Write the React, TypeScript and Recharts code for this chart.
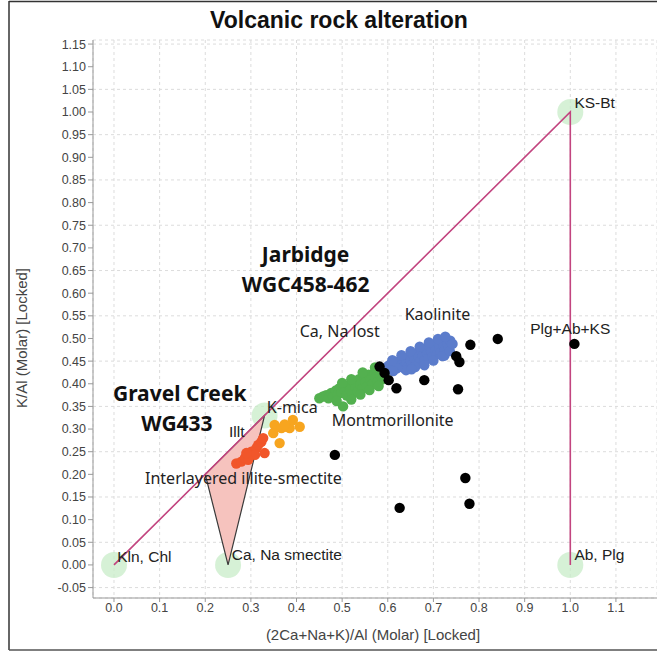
import React from 'react';
import { ScatterChart, Scatter, XAxis, YAxis, CartesianGrid } from 'recharts';

// ---- axis ticks ----
const xTicks = [0, 0.1, 0.2, 0.3, 0.4, 0.5, 0.6, 0.7, 0.8, 0.9, 1.0, 1.1];
const yTicks = [-0.05, 0, 0.05, 0.1, 0.15, 0.2, 0.25, 0.3, 0.35, 0.4, 0.45, 0.5, 0.55, 0.6, 0.65, 0.7, 0.75, 0.8, 0.85, 0.9, 0.95, 1.0, 1.05, 1.1, 1.15];

// ---- reference geometry (data units) ----
const endMembers = [
  { x: 0, y: 0 },
  { x: 0.25, y: 0 },
  { x: 1, y: 0 },
  { x: 1, y: 1 },
  { x: 0.33, y: 0.33 },
];
const alterationPath = [
  { x: 0, y: 0 },
  { x: 1, y: 1 },
  { x: 1, y: 0 },
];
const illiteSmectiteField = [
  { x: 0.2, y: 0.2 },
  { x: 0.33, y: 0.33 },
  { x: 0.25, y: 0 },
];

// ---- samples ----
const kaolinite = [
  { x: 0.598, y: 0.437 }, { x: 0.603, y: 0.441 }, { x: 0.608, y: 0.436 }, { x: 0.612, y: 0.445 },
  { x: 0.616, y: 0.438 }, { x: 0.620, y: 0.448 }, { x: 0.624, y: 0.440 }, { x: 0.628, y: 0.452 },
  { x: 0.632, y: 0.444 }, { x: 0.634, y: 0.436 }, { x: 0.638, y: 0.456 }, { x: 0.641, y: 0.447 },
  { x: 0.644, y: 0.438 }, { x: 0.647, y: 0.460 }, { x: 0.650, y: 0.451 }, { x: 0.653, y: 0.442 },
  { x: 0.656, y: 0.464 }, { x: 0.659, y: 0.455 }, { x: 0.662, y: 0.445 }, { x: 0.665, y: 0.468 },
  { x: 0.668, y: 0.459 }, { x: 0.671, y: 0.449 }, { x: 0.674, y: 0.472 }, { x: 0.677, y: 0.463 },
  { x: 0.680, y: 0.452 }, { x: 0.683, y: 0.477 }, { x: 0.686, y: 0.467 }, { x: 0.689, y: 0.456 },
  { x: 0.692, y: 0.481 }, { x: 0.695, y: 0.471 }, { x: 0.698, y: 0.460 }, { x: 0.701, y: 0.485 },
  { x: 0.704, y: 0.475 }, { x: 0.707, y: 0.465 }, { x: 0.710, y: 0.490 }, { x: 0.713, y: 0.480 },
  { x: 0.716, y: 0.470 }, { x: 0.719, y: 0.494 }, { x: 0.722, y: 0.484 }, { x: 0.725, y: 0.475 },
  { x: 0.728, y: 0.497 }, { x: 0.731, y: 0.488 }, { x: 0.734, y: 0.480 }, { x: 0.737, y: 0.495 },
  { x: 0.724, y: 0.462 }, { x: 0.640, y: 0.430 }, { x: 0.620, y: 0.434 }, { x: 0.660, y: 0.437 },
  { x: 0.610, y: 0.452 }, { x: 0.630, y: 0.463 }, { x: 0.650, y: 0.472 }, { x: 0.670, y: 0.482 },
  { x: 0.690, y: 0.491 }, { x: 0.710, y: 0.499 }, { x: 0.726, y: 0.504 }, { x: 0.612, y: 0.428 },
  { x: 0.652, y: 0.432 }, { x: 0.680, y: 0.441 }, { x: 0.700, y: 0.451 }, { x: 0.720, y: 0.461 },
  { x: 0.736, y: 0.472 }, { x: 0.742, y: 0.488 },
];
const montmorillonite = [
  { x: 0.450, y: 0.368 }, { x: 0.458, y: 0.372 }, { x: 0.465, y: 0.375 }, { x: 0.470, y: 0.368 },
  { x: 0.476, y: 0.380 }, { x: 0.480, y: 0.372 }, { x: 0.486, y: 0.385 }, { x: 0.490, y: 0.376 },
  { x: 0.494, y: 0.390 }, { x: 0.498, y: 0.380 }, { x: 0.502, y: 0.350 }, { x: 0.503, y: 0.393 },
  { x: 0.507, y: 0.384 }, { x: 0.510, y: 0.374 }, { x: 0.514, y: 0.397 }, { x: 0.518, y: 0.388 },
  { x: 0.522, y: 0.378 }, { x: 0.526, y: 0.403 }, { x: 0.530, y: 0.393 }, { x: 0.534, y: 0.383 },
  { x: 0.537, y: 0.410 }, { x: 0.540, y: 0.399 }, { x: 0.544, y: 0.389 }, { x: 0.548, y: 0.415 },
  { x: 0.551, y: 0.404 }, { x: 0.555, y: 0.394 }, { x: 0.558, y: 0.420 }, { x: 0.562, y: 0.409 },
  { x: 0.566, y: 0.399 }, { x: 0.570, y: 0.424 }, { x: 0.573, y: 0.414 }, { x: 0.577, y: 0.404 },
  { x: 0.580, y: 0.429 }, { x: 0.584, y: 0.419 }, { x: 0.588, y: 0.410 }, { x: 0.590, y: 0.432 },
  { x: 0.593, y: 0.422 }, { x: 0.520, y: 0.365 }, { x: 0.488, y: 0.362 },
  { x: 0.520, y: 0.410 }, { x: 0.545, y: 0.425 }, { x: 0.572, y: 0.436 }, { x: 0.540, y: 0.376 },
  { x: 0.560, y: 0.386 }, { x: 0.580, y: 0.395 }, { x: 0.500, y: 0.402 },
];
const kMicaSamples = [
  { x: 0.352, y: 0.309 }, { x: 0.349, y: 0.291 }, { x: 0.363, y: 0.269 }, { x: 0.367, y: 0.302 },
  { x: 0.378, y: 0.305 }, { x: 0.385, y: 0.302 }, { x: 0.392, y: 0.320 }, { x: 0.407, y: 0.305 },
  { x: 0.374, y: 0.310 },
];
const illiteSamples = [
  { x: 0.268, y: 0.224 }, { x: 0.279, y: 0.228 }, { x: 0.287, y: 0.236 }, { x: 0.298, y: 0.243 },
  { x: 0.301, y: 0.250 }, { x: 0.312, y: 0.258 }, { x: 0.316, y: 0.265 }, { x: 0.323, y: 0.272 },
  { x: 0.327, y: 0.280 }, { x: 0.330, y: 0.247 }, { x: 0.309, y: 0.243 }, { x: 0.294, y: 0.232 },
  { x: 0.290, y: 0.247 },
];
const otherSamples = [
  { x: 0.582, y: 0.438 }, { x: 0.593, y: 0.424 }, { x: 0.602, y: 0.408 }, { x: 0.619, y: 0.390 },
  { x: 0.680, y: 0.408 }, { x: 0.754, y: 0.388 }, { x: 0.750, y: 0.461 }, { x: 0.757, y: 0.448 },
  { x: 0.781, y: 0.486 }, { x: 0.841, y: 0.499 }, { x: 1.009, y: 0.488 }, { x: 0.484, y: 0.243 },
  { x: 0.770, y: 0.192 }, { x: 0.779, y: 0.135 }, { x: 0.626, y: 0.126 },
];

// ---- annotations (anchored in data units) ----
const endMemberLabels = [
  { x: 1.009, y: 1.02, text: 'KS-Bt' },
  { x: 0.912, y: 0.521, text: 'Plg+Ab+KS' },
  { x: 1.009, y: 0.022, text: 'Ab, Plg' },
  { x: 0.007, y: 0.018, text: 'Kln, Chl' },
  { x: 0.258, y: 0.022, text: 'Ca, Na smectite' },
  { x: 0.252, y: 0.294, text: 'Illt' },
];
const mineralLabels = [
  { x: 0.637, y: 0.554, text: 'Kaolinite' },
  { x: 0.407, y: 0.517, text: 'Ca, Na lost' },
  { x: 0.477, y: 0.320, text: 'Montmorillonite' },
  { x: 0.335, y: 0.349, text: 'K-mica' },
  { x: 0.068, y: 0.192, text: 'Interlayered illite-smectite' },
];
const siteLabels = [
  { x: 0.42, y: 0.686, text: 'Jarbidge' },
  { x: 0.42, y: 0.621, text: 'WGC458-462' },
  { x: 0.144, y: 0.379, text: 'Gravel Creek' },
  { x: 0.138, y: 0.314, text: 'WG433' },
];

const dot = (color: string) => (p: any) => <circle cx={p.cx} cy={p.cy} r={5.2} fill={color} />;
const none = () => <g />;

const labelShape = (family: string, size: number, weight: string, anchor: string, color: string) => (p: any) => (
  <text x={p.cx} y={p.cy} fontFamily={family} fontSize={size} fontWeight={weight} textAnchor={anchor} dominantBaseline="central" fill={color}>
    {p.payload.text}
  </text>
);

const polyLine = (stroke: string, fill: string, closed: boolean, width: number) => (lp: any) => {
  const pts = lp.points || [];
  const d = pts.map((q: any, i: number) => `${i === 0 ? 'M' : 'L'}${q.x},${q.y}`).join(' ') + (closed ? ' Z' : '');
  return <path d={d} stroke={stroke} strokeWidth={width} fill={fill} />;
};

const tickFmtX = (v: number) => v.toFixed(1);
const tickFmtY = (v: number) => v.toFixed(2);

export default function App() {
  return (
    <div style={{ position: 'absolute', left: 0, top: 0, width: 657, height: 653, overflow: 'hidden', background: '#fff' }}>
      <ScatterChart width={657} height={653} margin={{ top: 40, right: 0, bottom: 0, left: 0 }}>
        <CartesianGrid stroke="#dcdcdc" strokeDasharray="3 3" />
        <XAxis
          type="number"
          dataKey="x"
          domain={[-0.046, 1.19]}
          ticks={xTicks}
          allowDataOverflow
          tickFormatter={tickFmtX}
          height={55}
          tickSize={4}
          tickMargin={1}
          stroke="#999"
          tick={{ fill: '#444', fontSize: 12.5, fontFamily: 'Liberation Sans, Arial, sans-serif' }}
        />
        <YAxis
          type="number"
          dataKey="y"
          domain={[-0.073, 1.159]}
          ticks={yTicks}
          allowDataOverflow
          tickFormatter={tickFmtY}
          width={93}
          tickSize={5}
          tickMargin={2}
          stroke="#999"
          tick={{ fill: '#444', fontSize: 12.5, fontFamily: 'Liberation Sans, Arial, sans-serif' }}
        />
        <Scatter data={endMembers} isAnimationActive={false} shape={(p: any) => <circle cx={p.cx} cy={p.cy} r={13} fill="#c8ecc8" fillOpacity={0.75} />} />
        <Scatter data={illiteSmectiteField} isAnimationActive={false} shape={none} line={polyLine('#3a3a3a', '#f6c3be', true, 1.2)} lineType="joint" />
        <Scatter data={alterationPath} isAnimationActive={false} shape={none} line={polyLine('#c2447f', 'none', false, 1.6)} lineType="joint" />
        <Scatter data={montmorillonite} isAnimationActive={false} shape={dot('#53b04f')} />
        <Scatter data={kaolinite} isAnimationActive={false} shape={dot('#5b7ccb')} />
        <Scatter data={kMicaSamples} isAnimationActive={false} shape={dot('#f7a51f')} />
        <Scatter data={illiteSamples} isAnimationActive={false} shape={dot('#f1562a')} />
        <Scatter data={otherSamples} isAnimationActive={false} shape={dot('#000')} />
        <Scatter data={endMemberLabels} isAnimationActive={false} shape={labelShape('Liberation Sans, Arial, sans-serif', 15.5, 'normal', 'start', '#222')} />
        <Scatter data={mineralLabels} isAnimationActive={false} shape={labelShape('Noto Sans, sans-serif', 16, 'normal', 'start', '#222')} />
        <Scatter data={siteLabels} isAnimationActive={false} shape={labelShape('Noto Sans, sans-serif', 21, 'bold', 'middle', '#111')} />
      </ScatterChart>
      <svg width={657} height={653} style={{ position: 'absolute', left: 0, top: 0, pointerEvents: 'none' }}>
        <text x={339} y={20} textAnchor="middle" dominantBaseline="central" fontFamily="Liberation Sans, Arial, sans-serif" fontWeight="bold" fontSize={23} fill="#111">
          Volcanic rock alteration
        </text>
        <text x={373} y={634} textAnchor="middle" dominantBaseline="central" fontFamily="Liberation Sans, Arial, sans-serif" fontSize={15} fill="#444">
          (2Ca+Na+K)/Al (Molar) [Locked]
        </text>
        <text x={21} y={338} textAnchor="middle" dominantBaseline="central" transform="rotate(-90 21 338)" fontFamily="Liberation Sans, Arial, sans-serif" fontSize={15} fill="#444">
          K/Al (Molar) [Locked]
        </text>
        <line x1={9} y1={1.5} x2={657} y2={1.5} stroke="#333" strokeWidth={1.5} />
        <line x1={9} y1={1} x2={9} y2={650} stroke="#333" strokeWidth={1.5} />
        <line x1={9} y1={650} x2={657} y2={650} stroke="#555" strokeWidth={1.5} />
      </svg>
    </div>
  );
}
